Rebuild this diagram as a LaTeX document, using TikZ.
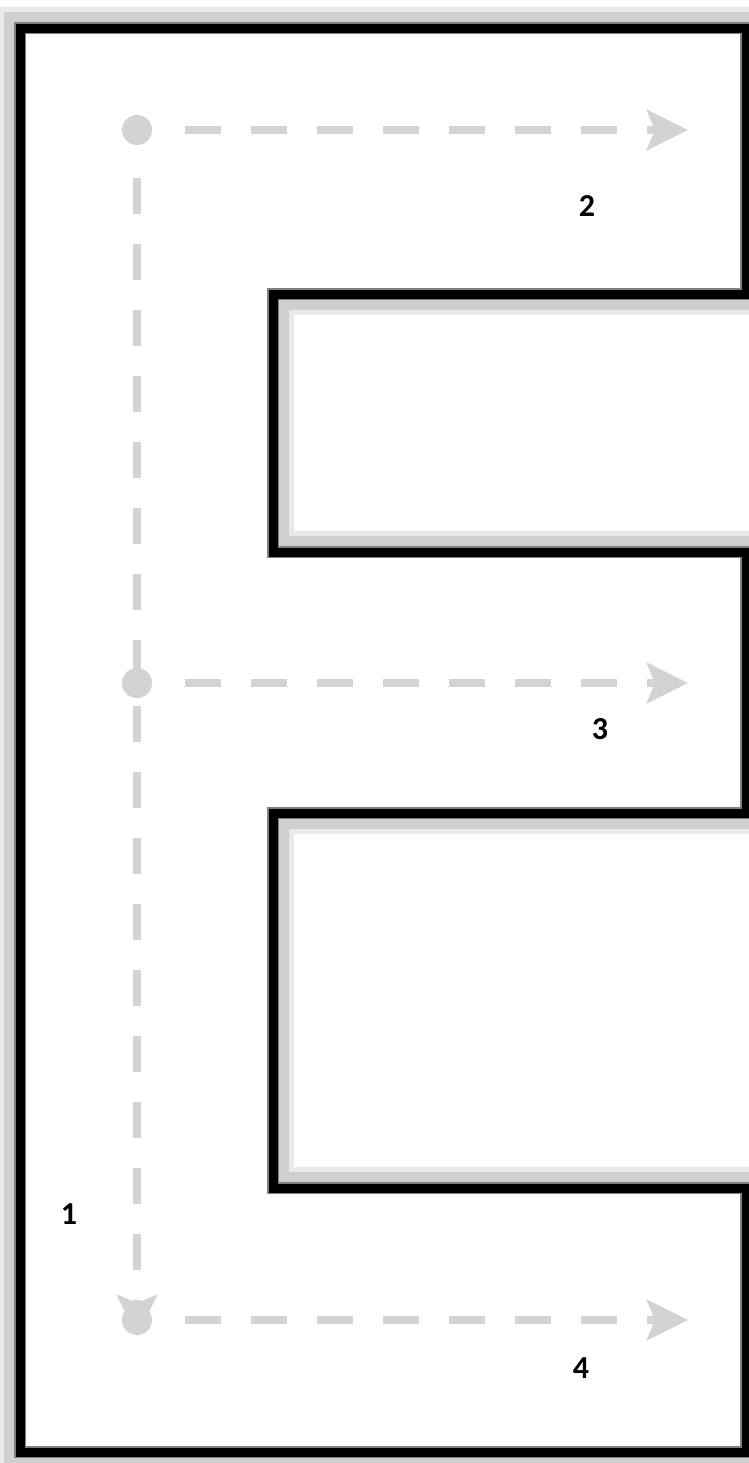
\documentclass[tikz,border=0pt]{standalone}
\usepackage{fontspec}
\setmainfont{Carlito}
\usetikzlibrary{arrows.meta}
\definecolor{pathgray}{HTML}{D2D3D5}
\definecolor{glowgray}{HTML}{CFCFCF}
\newcommand{\eoutline}{(20,28) -- (746,28) -- (746,294) -- (273,294) -- (273,552) -- (746,552) -- (746,813) -- (273,813) -- (273,1188) -- (746,1188) -- (746,1452) -- (20,1452) -- cycle}

\begin{document}
\begin{tikzpicture}[x=0.5pt, y=-0.5pt,
    waypath/.style={pathgray, line width=4pt, dash pattern=on 18pt off 15pt, shorten <=16.5pt, -{Stealth[length=20.5pt, width=20pt, inset=4pt]}},
    waydot/.style={circle, fill=pathgray, inner sep=0pt, minimum size=15pt},
    numlabel/.style={font=\bfseries\fontsize{16}{18}\selectfont}]
    \useasboundingbox (0,0) rectangle (749,1463);
    \fill[white] (0,0) rectangle (749,1463);
    % the E with its grey shadow
    \draw[glowgray!45, line width=21pt] \eoutline;
    \draw[glowgray, line width=16pt] \eoutline;
    \fill[white] \eoutline;
    \draw[gray, line width=6pt] \eoutline;
    \draw[black, line width=4.5pt] \eoutline;
    % dots and arrows
    \node[waydot] (d1) at (137,130) {};
    \node[waydot] (d2) at (137,683) {};
    \node[waydot] (d3) at (137,1320) {};
    \coordinate (a1) at (688,130);
    \coordinate (a2) at (688,683);
    \coordinate (a3) at (688,1320);
    \coordinate (v) at (137,1336);
    \draw[waypath] (d1) -- (v);
    \draw[waypath] (d1) -- (a1);
    \draw[waypath] (d2) -- (a2);
    \draw[waypath] (d3) -- (a3);
    \node[numlabel] (n1) at (69,1214) {1};
    \node[numlabel] (n2) at (587,206) {2};
    \node[numlabel] (n3) at (600,729) {3};
    \node[numlabel] (n4) at (581,1368) {4};
\end{tikzpicture}
\end{document}
